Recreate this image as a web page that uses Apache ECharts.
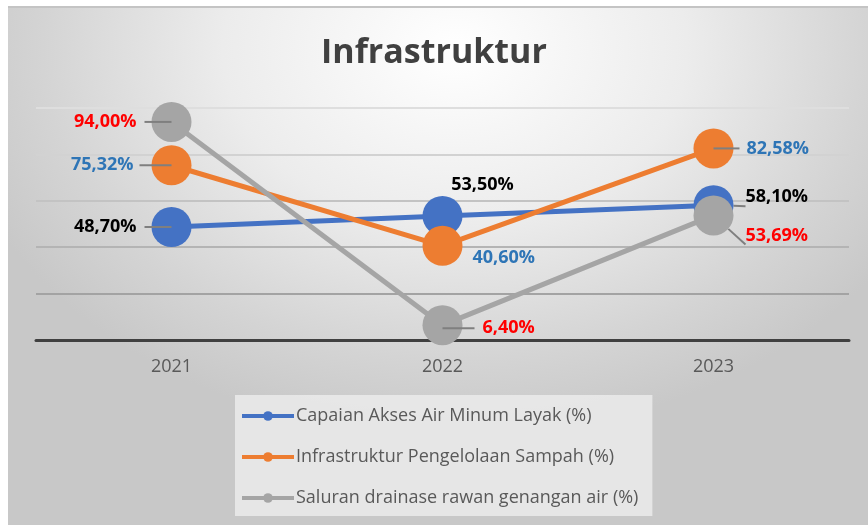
<!DOCTYPE html>
<html>
<head>
<meta charset="utf-8">
<script src="https://cdn.jsdelivr.net/npm/echarts@6/dist/echarts.min.js"></script>
<style>
html,body{margin:0;padding:0;background:#fff;}
#frame{position:absolute;left:8px;top:6px;width:860px;height:519px;
  border-top:2px solid #c4c4c4;box-sizing:border-box;
  background:radial-gradient(ellipse 60% 75% at 52% 8%, #ffffff 0%, #ececec 45%, #d4d4d4 80%, #c8c8c8 100%);}
#chart{position:absolute;left:0;top:0;width:868px;height:525px;}
</style>
</head>
<body>
<div id="frame"></div>
<div id="chart"></div>
<script>
const categories = ['2021', '2022', '2023'];
const seriesNames = [
  'Capaian Akses Air Minum Layak (%)',
  'Infrastruktur Pengelolaan Sampah (%)',
  'Saluran drainase rawan genangan air (%)'
];
const airMinum = [48.70, 53.50, 58.10];
const sampah = [75.32, 40.60, 82.58];
const drainase = [94.00, 6.40, 53.69];
const yTicks = [0, 20, 40, 60, 80, 100];

const lineColors = ['#4472c4', '#ed7d31', '#a5a5a5'];
const labelColors = ['#000000', '#2e75b6', '#ff0000'];

// label placement per series per category (style only)
const labelPlacement = [
  [ {lead:'L', bar:27, gap:8}, {position:'top', distance:2, offset:[40,0]}, {position:'right', distance:12, offset:[0,-8], line:true} ],
  [ {lead:'L', bar:32, gap:6}, {position:'right', distance:10, offset:[0,12]}, {lead:'R', bar:26, gap:7} ],
  [ {lead:'L', bar:27, gap:8}, {lead:'R', bar:32, gap:8, offset:[0,3]}, {position:'right', distance:12, offset:[0,20], line:true} ]
];

function fmt(v){ return v.toFixed(2).replace('.', ',') + '%'; }

function buildData(values, si){
  return values.map((v, i) => {
    const p = labelPlacement[si][i];
    const base = {
      show: true,
      color: labelColors[si],
      fontFamily: 'Open Sans',
      fontWeight: 'bold',
      fontSize: 18,
      offset: p.offset || [0,0]
    };
    let label;
    if (p.lead) {
      const rich = {
        v: { color: labelColors[si], fontFamily: 'Open Sans', fontWeight: 'bold', fontSize: 18 },
        s: { width: p.gap, fontSize: 18 },
        g: { width: p.bar, height: 2, backgroundColor: '#7f7f7f', fontSize: 2 }
      };
      label = Object.assign(base, {
        position: p.lead === 'L' ? 'left' : 'right',
        distance: -20,
        rich: rich,
        formatter: p.lead === 'L' ? ('{v|' + fmt(v) + '}{s| }{g| }') : ('{g| }{s| }{v|' + fmt(v) + '}')
      });
    } else {
      label = Object.assign(base, {
        position: p.position,
        distance: p.distance,
        formatter: () => fmt(v)
      });
    }
    return {
      value: v,
      label: label,
      labelLine: { show: !!p.line, lineStyle: { color: '#7f7f7f', width: 2 } }
    };
  });
}

const allValues = [airMinum, sampah, drainase];
const chart = echarts.init(document.getElementById('chart'), null, {renderer:'canvas'});
chart.setOption({
  animation: false,
  backgroundColor: 'transparent',
  title: {
    text: 'Infrastruktur',
    left: 'center',
    top: 31,
    textStyle: { fontFamily: 'Open Sans', fontWeight: 'bold', fontSize: 34, color: '#404040' }
  },
  grid: { left: 36, top: 108, width: 813, height: 232, containLabel: false },
  xAxis: {
    type: 'category',
    data: categories,
    boundaryGap: true,
    axisLine: { show: true, lineStyle: { color: '#404040', width: 3 } },
    axisTick: { show: false },
    axisLabel: { color: '#595959', fontFamily: 'Open Sans', fontSize: 18, margin: 18 }
  },
  yAxis: {
    type: 'value',
    min: yTicks[0],
    max: yTicks[yTicks.length - 1],
    interval: 20,
    axisLabel: { show: false },
    axisLine: { show: false },
    axisTick: { show: false },
    splitLine: { show: true, lineStyle: { color: ['#404040', '#a3a3a3', '#b4b4b4', '#c3c3c3', '#d2d2d2', '#dedede'], width: 2 } }
  },
  legend: {
    orient: 'vertical',
    left: 235,
    top: 395,
    padding: [11, 14, 8, 5],
    backgroundColor: 'rgba(235,235,235,0.85)',
    itemWidth: 52,
    itemHeight: 12,
    itemGap: 21,
    lineStyle: { width: 4 },
    textStyle: { color: '#595959', fontFamily: 'Open Sans', fontSize: 18, lineHeight: 20, padding: [0,0,0,-3] },
    data: seriesNames
  },
  series: allValues.map((vals, si) => ({
    name: seriesNames[si],
    type: 'line',
    data: buildData(vals, si),
    symbol: 'circle',
    symbolSize: 40,
    color: lineColors[si],
    itemStyle: { color: lineColors[si] },
    lineStyle: { color: lineColors[si], width: 5 },
    z: 2 + si
  }))
});
</script>
</body>
</html>
